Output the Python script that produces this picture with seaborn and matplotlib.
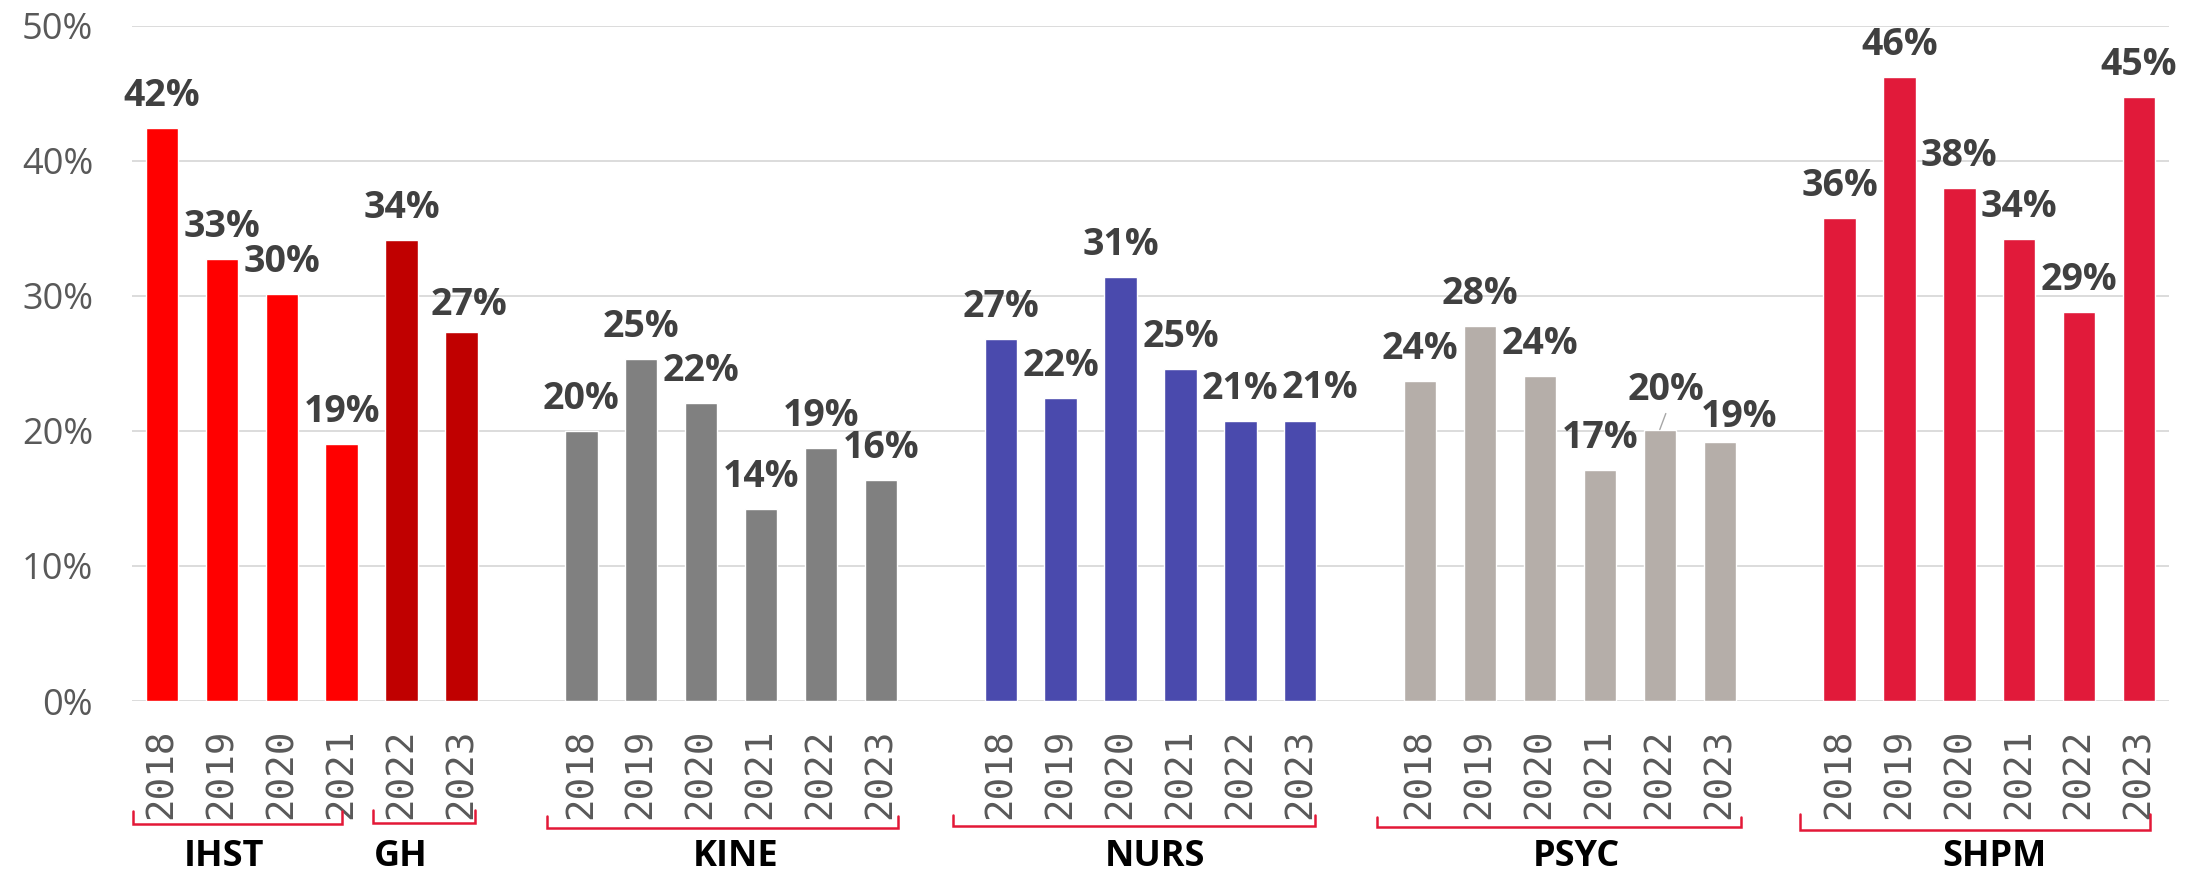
import numpy as np
import pandas as pd
import matplotlib
matplotlib.use("Agg")
import matplotlib.pyplot as plt
import matplotlib.transforms as mtransforms
import seaborn as sns

# data (percent)
groups = ["IHST", "GH", "KINE", "NURS", "PSYC", "SHPM"]
ihst_years = ["2018", "2019", "2020", "2021"]
gh_years = ["2022", "2023"]
all_years = ["2018", "2019", "2020", "2021", "2022", "2023"]

ihst_rates = [42.4, 32.7, 30.1, 19.0]
gh_rates = [34.1, 27.3]
kine_rates = [20.0, 25.3, 22.1, 14.2, 18.7, 16.4]
nurs_rates = [26.8, 22.4, 31.4, 24.6, 20.7, 20.7]
psyc_rates = [23.7, 27.8, 24.1, 17.1, 20.1, 19.2]
shpm_rates = [35.8, 46.2, 38.0, 34.2, 28.8, 44.7]

colors = {"IHST": "#FF0000", "GH": "#C00000", "KINE": "#808080",
          "NURS": "#4A4AAD", "PSYC": "#B5AEA9", "SHPM": "#E11A3A"}

rows = []
for g, yrs, vals in [("IHST", ihst_years, ihst_rates), ("GH", gh_years, gh_rates),
                     ("KINE", all_years, kine_rates), ("NURS", all_years, nurs_rates),
                     ("PSYC", all_years, psyc_rates), ("SHPM", all_years, shpm_rates)]:
    for y, v in zip(yrs, vals):
        rows.append({"slot": f"{g} {y}", "year": y, "group": g, "rate": v})
df = pd.DataFrame(rows)

# category order, with an empty slot between departments
order = [f"IHST {y}" for y in ihst_years] + [f"GH {y}" for y in gh_years]
for i, g in enumerate(["KINE", "NURS", "PSYC", "SHPM"]):
    order += [f"gap{i}"] + [f"{g} {y}" for y in all_years]

# ---- figure
sns.set_theme(style="white")
plt.rcParams["font.family"] = ["Open Sans", "DejaVu Sans"]
fig = plt.figure(figsize=(22.03, 8.72), dpi=100)
ax = fig.add_axes([0.0599, 0.1961, 0.9247, 0.7744])

sns.barplot(data=df, x="slot", y="rate", hue="group", order=order,
            palette=colors, dodge=False, width=0.54, saturation=1,
            legend=False, ax=ax)

ax.set_xlim(-0.5, len(order) - 0.5)
ax.set_ylim(0, 50)
ax.set_yticks([0, 10, 20, 30, 40, 50])
ax.set_yticklabels([f"{t}%" for t in [0, 10, 20, 30, 40, 50]])
ax.yaxis.grid(True, color="#D9D9D9", lw=1.3)
ax.set_axisbelow(True)
sns.despine(ax=ax, left=True, bottom=True)
ax.set_xlabel("")
ax.set_ylabel("")
ax.tick_params(axis="y", length=0, pad=28, labelsize=26, labelcolor="#595959")

xt = [s.split(" ")[1] if s in set(df["slot"]) else "" for s in order]
ax.set_xticks(range(len(order)))
ax.set_xticklabels(xt, rotation=90, family="DejaVu Sans Mono", fontsize=27,
                   color="#595959", va="top")
ax.tick_params(axis="x", length=0, pad=20)

# data labels (offsets in px: dx, baseline above bar top)
special = {"GH 2023": (7, 17), "PSYC 2022": (6, 30), "PSYC 2023": (19, 15),
           "NURS 2023": (20, 23)}
for _, r in df.iterrows():
    pos = order.index(r["slot"])
    dx, dy = special.get(r["slot"], (0, 22))
    ax.annotate(f"{r['rate']:.0f}%", (pos, r["rate"]), xytext=(dx * 0.72, dy * 0.72),
                textcoords="offset points", ha="center", va="baseline",
                fontsize=27, fontweight="bold", color="#404040")
    if r["slot"] == "PSYC 2022":
        ax.annotate("", xy=(pos, r["rate"]), xytext=(6 * 0.72, 16 * 0.72),
                    textcoords="offset points",
                    arrowprops=dict(arrowstyle="-", color="#A6A6A6", lw=1,
                                    shrinkA=0, shrinkB=0))

# department brackets and names
trans = mtransforms.blended_transform_factory(ax.transData, ax.transAxes)
brackets = [("IHST", -0.49, 3.0, -0.163, -0.182, 1.03),
            ("GH", 3.53, 5.23, -0.161, -0.180, 3.98),
            ("KINE", 6.42, 12.29, -0.171, -0.188, 9.58),
            ("NURS", 13.2, 19.24, -0.169, -0.185, 16.58),
            ("PSYC", 20.28, 26.36, -0.172, -0.187, 23.6),
            ("SHPM", 27.34, 33.18, -0.167, -0.191, 30.58)]
for name, x0, x1, yt, yb, xl in brackets:
    ax.plot([x0, x0, x1, x1], [yt, yb, yb, yt], transform=trans, clip_on=False,
            color="#E31837", lw=1.8, solid_joinstyle="miter")
    ax.text(xl, -0.245, name, transform=trans, ha="center", va="baseline",
            fontsize=26, fontweight="bold", color="black")

fig.savefig("out.png", dpi=100)
